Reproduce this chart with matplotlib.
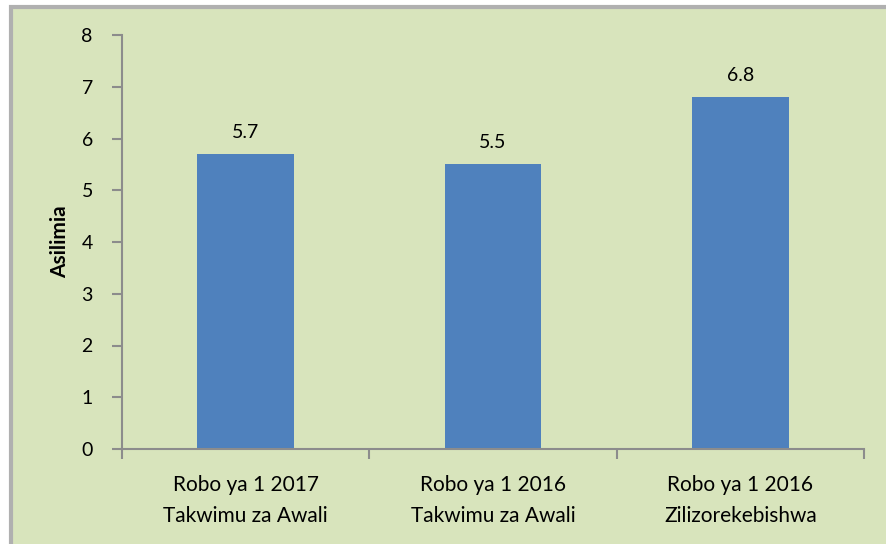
import matplotlib
matplotlib.use("Agg")
import matplotlib.pyplot as plt
from matplotlib.patches import Rectangle

# data
categories = ["Robo ya 1 2017\nTakwimu za Awali",
              "Robo ya 1 2016\nTakwimu za Awali",
              "Robo ya 1 2016\nZilizorekebishwa"]
values = [5.7, 5.5, 6.8]
y_ticks = [0, 1, 2, 3, 4, 5, 6, 7, 8]

plt.rcParams['font.family'] = ['Lato', 'DejaVu Sans']

bg = '#d8e4bc'
bar_color = '#4f81bd'
axis_color = '#8c8c8c'

fig = plt.figure(figsize=(8.86, 5.44), dpi=100)
fig.patch.set_facecolor('white')

# green panel with grey frame (behind the axes)
panel = Rectangle((11 / 886, -0.05), 1.0, 1 - 7 / 544 + 0.05,
                  transform=fig.transFigure, facecolor=bg,
                  edgecolor='#b0b0b0', linewidth=3.0, zorder=-10)
fig.patches.append(panel)

ax = fig.add_axes([122 / 886, 1 - 449 / 544, (864 - 122) / 886, (449 - 35) / 544])
ax.set_facecolor('none')

x = range(len(categories))
ax.bar(x, values, width=0.39, color=bar_color, zorder=2)

for xi, v in zip(x, values):
    ax.text(xi, v + 0.25, f"{v}", ha='center', va='bottom', fontsize=14, color='black')

ax.set_xlim(-0.5, len(categories) - 0.5)
ax.set_ylim(0, 8)
ax.set_yticks(y_ticks)
ax.set_xticks(x)
ax.set_xticklabels(categories, fontsize=15, linespacing=1.65)
ax.tick_params(axis='x', length=0, pad=19)
ax.set_xticks([i - 0.5 for i in range(len(categories) + 1)], minor=True)
ax.tick_params(axis='x', which='minor', length=7, color=axis_color, width=1.5)
ax.tick_params(axis='y', length=7, color=axis_color, width=1.5, labelsize=14, pad=14)

for side in ['top', 'right']:
    ax.spines[side].set_visible(False)
for side in ['left', 'bottom']:
    ax.spines[side].set_color(axis_color)
    ax.spines[side].set_linewidth(1.5)

ax.set_ylabel("Asilimia", fontsize=15, fontweight='bold', labelpad=8)

fig.savefig("out.png", dpi=100, facecolor=fig.get_facecolor())
